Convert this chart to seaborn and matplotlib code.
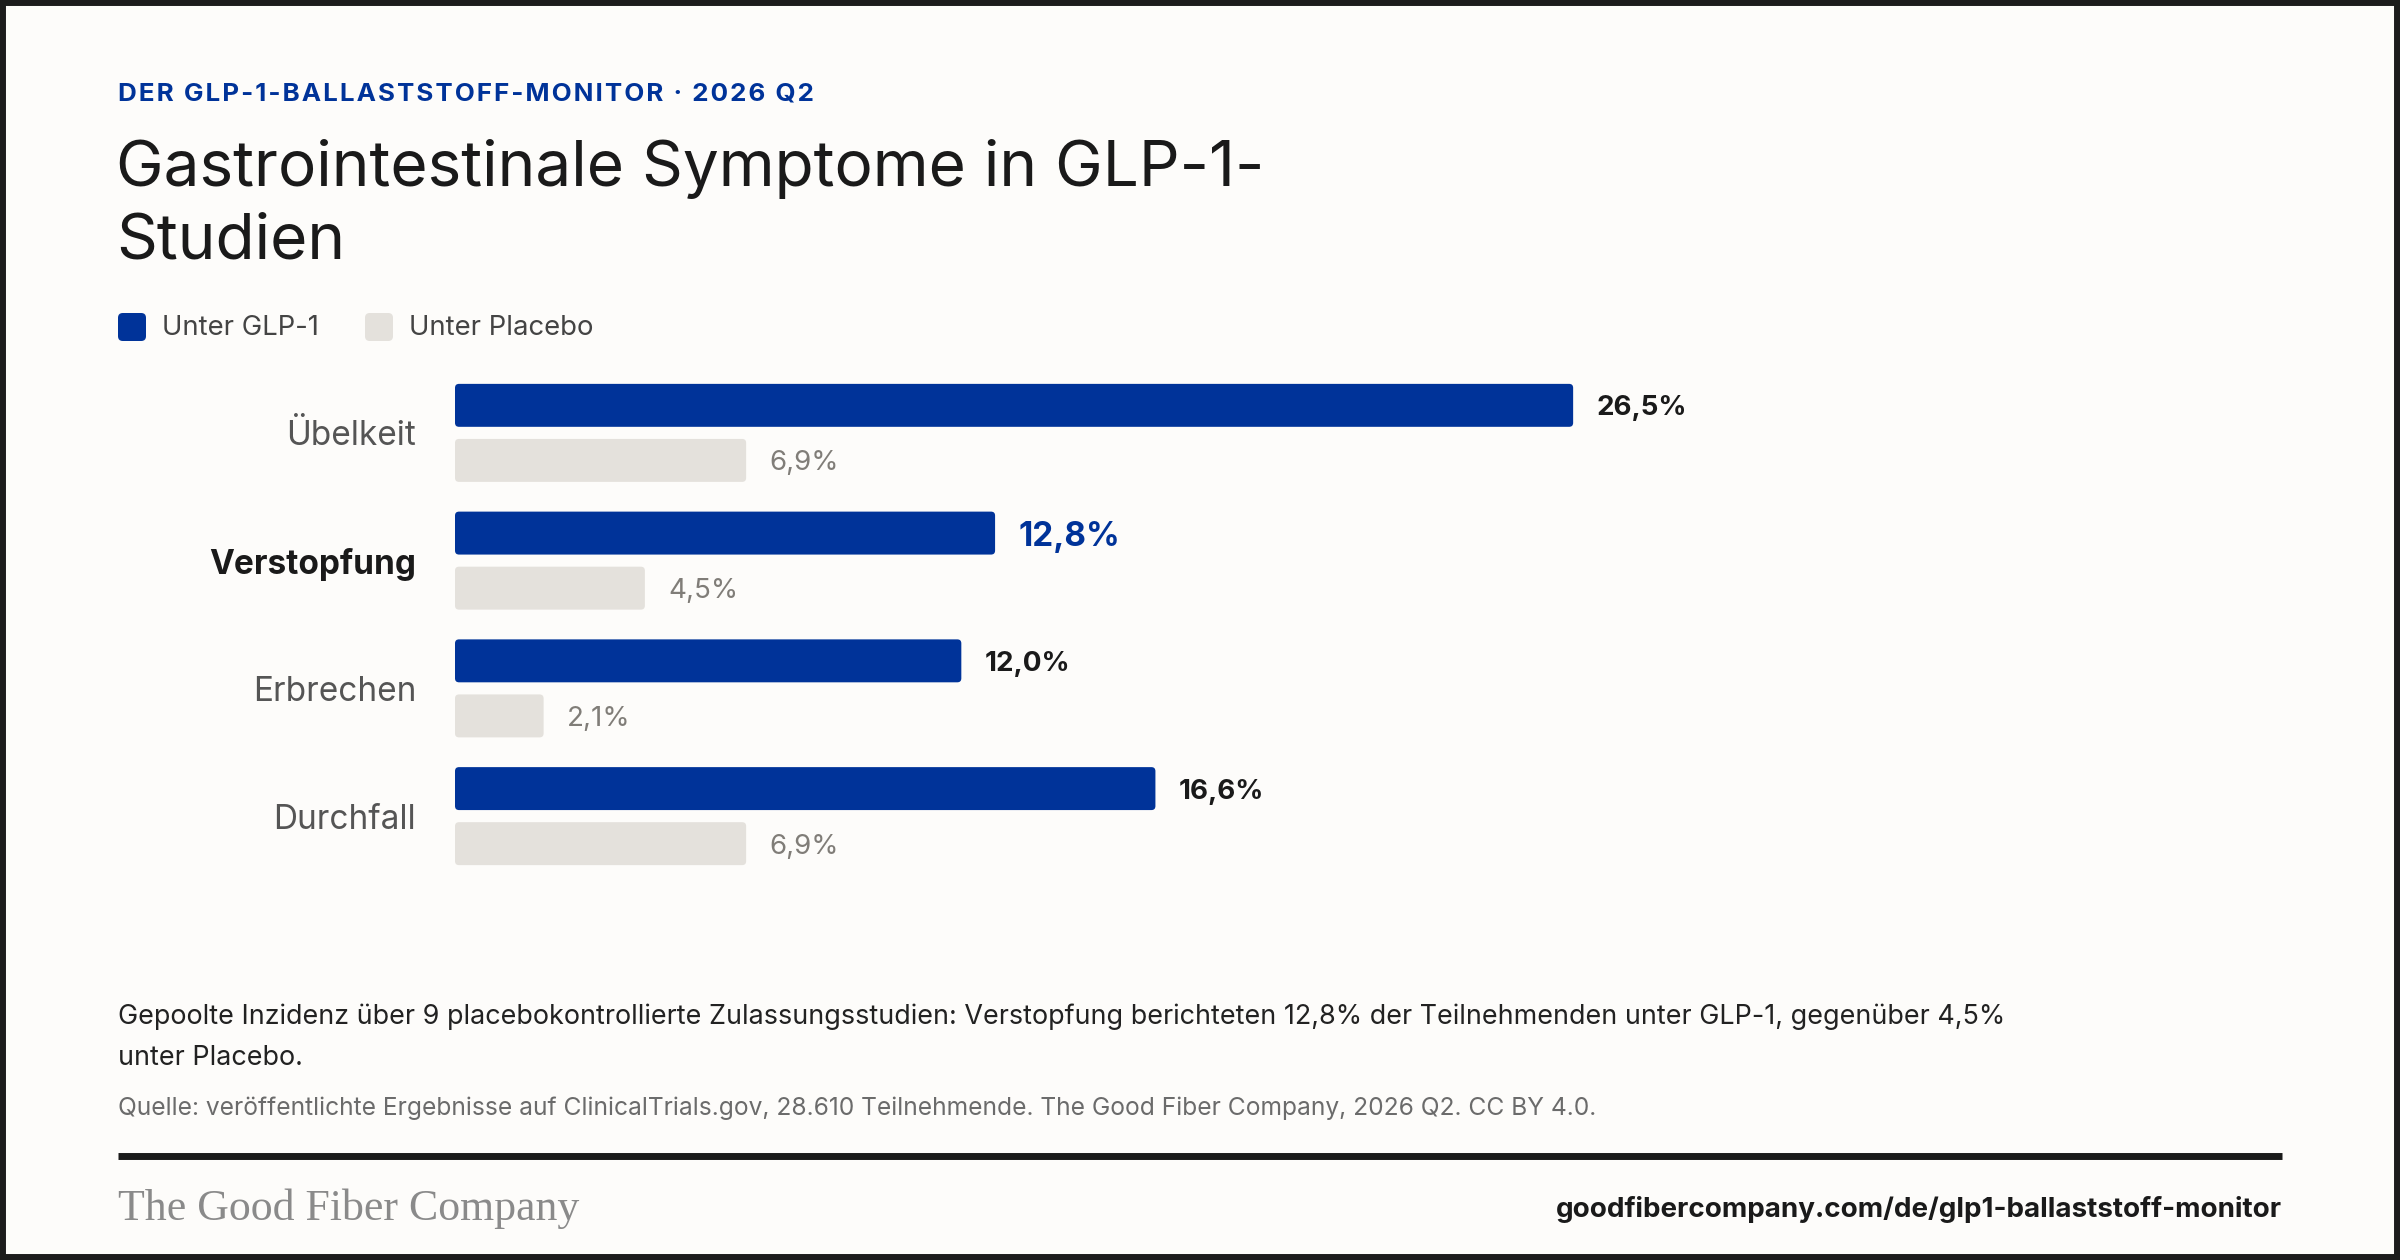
import pandas as pd
import seaborn as sns
import matplotlib.pyplot as plt
from matplotlib.patches import FancyBboxPatch, Rectangle
from matplotlib.lines import Line2D

# Data
symptoms = ["Übelkeit", "Verstopfung", "Erbrechen", "Durchfall"]
glp1 = [26.5, 12.8, 12.0, 16.6]
placebo = [6.9, 4.5, 2.1, 6.9]
groups = ["Unter GLP-1", "Unter Placebo"]
highlight = "Verstopfung"

kicker = "DER GLP-1-BALLASTSTOFF-MONITOR · 2026 Q2"
title_lines = ["Gastrointestinale Symptome in GLP-1-", "Studien"]
note_lines = ["Gepoolte Inzidenz über 9 placebokontrollierte Zulassungsstudien: Verstopfung berichteten 12,8% der Teilnehmenden unter GLP-1, gegenüber 4,5%",
              "unter Placebo."]
source = "Quelle: veröffentlichte Ergebnisse auf ClinicalTrials.gov, 28.610 Teilnehmende. The Good Fiber Company, 2026 Q2. CC BY 4.0."
brand = "The Good Fiber Company"
url = "goodfibercompany.com/de/glp1-ballaststoff-monitor"

BG = "#fdfcfa"
BLUE = "#003399"
GREY = "#e4e1dc"
INK = "#1a1a1a"

df = pd.DataFrame({
    "symptom": symptoms * 2,
    "value": glp1 + placebo,
    "group": [groups[0]] * len(symptoms) + [groups[1]] * len(symptoms),
})

sns.set_style("white")
plt.rcParams["font.family"] = ["Inter", "DejaVu Sans"]

W, H = 2400, 1260
fig = plt.figure(figsize=(24, 12.6), dpi=100, facecolor=BG)


def fy(px):
    return 1 - px / H


def fx(px):
    return px / W


# axes placed in pixel terms
ax = fig.add_axes([fx(455), fy(880), fx(1827), 511 / H])
ax.set_facecolor(BG)
sns.barplot(data=df, y="symptom", x="value", hue="group", orient="h",
            palette=[BLUE, GREY], saturation=1, width=0.862, gap=0.22,
            legend=False, ax=ax)
ax.set_xlim(0, 43.3)
ax.set_ylim(3.5, -0.5)
sns.despine(ax=ax, left=True, bottom=True)
ax.set_xlabel("")
ax.set_ylabel("")
ax.set_xticks([])
ax.tick_params(axis="y", length=0, pad=28)

# rounded bars
rx = 4 / 42.19
ry = 4 / 127.7
for cont in ax.containers:
    for bar in cont:
        rb = FancyBboxPatch((bar.get_x(), bar.get_y()), bar.get_width(), bar.get_height(),
                            boxstyle=f"round,pad=0,rounding_size={rx}",
                            mutation_aspect=ry / rx, fc=bar.get_facecolor(), ec="none")
        ax.add_patch(rb)
        bar.set_visible(False)

for lab in ax.get_yticklabels():
    lab.set_fontsize(24)
    if lab.get_text() == highlight:
        lab.set_fontweight("bold")
        lab.set_color(INK)
    else:
        lab.set_color("#555555")

fmt = lambda v: f"{v:.1f}".replace(".", ",") + "%"
for i, (cont, vals) in enumerate(zip(ax.containers, [glp1, placebo])):
    texts = ax.bar_label(cont, labels=[fmt(v) for v in vals], padding=17)
    for sym, t in zip(symptoms, texts):
        t.set_va("center_baseline")
        if i == 0:
            if sym == highlight:
                t.set_fontsize(24)
                t.set_fontweight("bold")
                t.set_color(BLUE)
            else:
                t.set_fontsize(20)
                t.set_fontweight("bold")
                t.set_color(INK)
        else:
            t.set_fontsize(20)
            t.set_color("#807d78")

# header (hair spaces for letter spacing)
fig.text(fx(118), fy(100), "\u200a".join(kicker), fontsize=18.7, fontweight="bold",
         color=BLUE, va="baseline")
fig.text(fx(116), fy(186), title_lines[0], fontsize=46, color=INK, va="baseline")
fig.text(fx(116), fy(259), title_lines[1], fontsize=46, color=INK, va="baseline")

# legend
for x0, col, name in [(118, BLUE, groups[0]), (365, GREY, groups[1])]:
    fig.patches.append(FancyBboxPatch((fx(x0), fy(341)), fx(28), 28 / H,
                                      boxstyle="round,pad=0,rounding_size=0.002",
                                      mutation_aspect=W / H,
                                      transform=fig.transFigure, fc=col, ec="none"))
    fig.text(fx(x0 + 44), fy(328), name, fontsize=19.8, color="#444444", va="center")

# footer
fig.text(fx(118), fy(1024), note_lines[0], fontsize=19.4, color="#222222", va="baseline")
fig.text(fx(118), fy(1065), note_lines[1], fontsize=19.4, color="#222222", va="baseline")
fig.text(fx(118), fy(1115), source, fontsize=17.7, color="#6b6b6b", va="baseline")
fig.lines.append(Line2D([fx(118), fx(2282)], [fy(1156), fy(1156)], transform=fig.transFigure,
                        color=INK, linewidth=5, solid_capstyle="butt"))
fig.text(fx(118), fy(1220), brand, fontsize=31.6, color="#8a8a8a", va="baseline",
         family=["Liberation Serif", "DejaVu Serif"])
fig.text(fx(2282), fy(1217), url, fontsize=20, fontweight="bold", color=INK, va="baseline", ha="right")

# frame
fig.patches.append(Rectangle((0, 0), 1, 1, transform=fig.transFigure, fill=False,
                             ec="#1c1c1c", linewidth=8.6))

fig.savefig("out.png", dpi=100, facecolor=BG)
